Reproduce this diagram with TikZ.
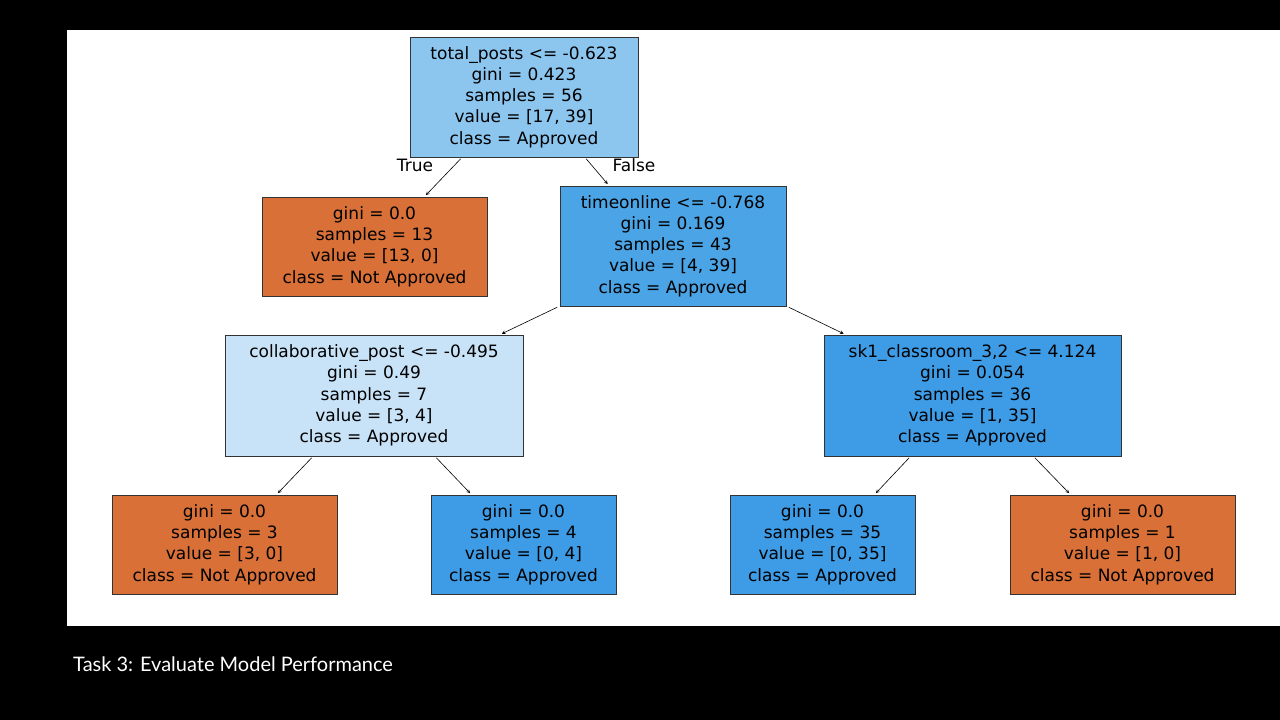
\documentclass[tikz,border=0pt]{standalone}
\usepackage{fontspec}
\setmainfont{DejaVu Sans}
\newfontfamily\capfont{Lato}
\definecolor{orng}{HTML}{D87038}
\definecolor{bluea}{HTML}{8CC6EF}
\definecolor{blueb}{HTML}{4BA4E5}
\definecolor{bluec}{HTML}{C8E3F7}
\definecolor{blued}{HTML}{3D9CE5}
\begin{document}
\begin{tikzpicture}[x=1pt,y=-1pt]
		\tikzset{leaf/.style = {draw=black!80, line width=0.8pt, align=center, inner sep=0pt,
			font=\fontsize{17}{21.3}\selectfont}}
		\tikzset{edge/.style = {->, >=stealth, line width=0.6pt, shorten <=2pt, shorten >=2pt}}
		
		\fill[black] (0,0) rectangle (1280,720);
		\fill[white] (67,30) rectangle (1280,626);
		
		\node[leaf, fill=bluea, minimum width=228, minimum height=120] (root) at (524,97)
			{total\_posts <= -0.623\\gini = 0.423\\samples = 56\\value = [17, 39]\\class = Approved};
		\node[leaf, fill=orng, minimum width=225, minimum height=99] (l1) at (374.5,246.5)
			{gini = 0.0\\samples = 13\\value = [13, 0]\\class = Not Approved};
		\node[leaf, fill=blueb, minimum width=226, minimum height=120] (r1) at (673,246)
			{timeonline <= -0.768\\gini = 0.169\\samples = 43\\value = [4, 39]\\class = Approved};
		\node[leaf, fill=bluec, minimum width=298, minimum height=121] (ll) at (374,395.5)
			{collaborative\_post <= -0.495\\gini = 0.49\\samples = 7\\value = [3, 4]\\class = Approved};
		\node[leaf, fill=blued, minimum width=297, minimum height=121] (rr) at (972.5,395.5)
			{sk1\_classroom\_3,2 <= 4.124\\gini = 0.054\\samples = 36\\value = [1, 35]\\class = Approved};
		\node[leaf, fill=orng, minimum width=225, minimum height=99] (a) at (224.5,544.5)
			{gini = 0.0\\samples = 3\\value = [3, 0]\\class = Not Approved};
		\node[leaf, fill=blued, minimum width=185, minimum height=99] (b) at (523.5,544.5)
			{gini = 0.0\\samples = 4\\value = [0, 4]\\class = Approved};
		\node[leaf, fill=blued, minimum width=185, minimum height=99] (c) at (822.5,544.5)
			{gini = 0.0\\samples = 35\\value = [0, 35]\\class = Approved};
		\node[leaf, fill=orng, minimum width=225, minimum height=99] (d) at (1122.5,544.5)
			{gini = 0.0\\samples = 1\\value = [1, 0]\\class = Not Approved};
		
		\draw[edge] ([xshift=-62]root.south) to ([xshift=50]l1.north);
		\draw[edge] ([xshift=61]root.south) to ([xshift=-64]r1.north);
		\draw[edge] ([xshift=-114]r1.south) to ([xshift=126]ll.north);
		\draw[edge] ([xshift=114]r1.south) to ([xshift=-127]rr.north);
		\draw[edge] ([xshift=-61]ll.south) to ([xshift=52]a.north);
		\draw[edge] ([xshift=61]ll.south) to ([xshift=-52]b.north);
		\draw[edge] ([xshift=-62]rr.south) to ([xshift=52]c.north);
		\draw[edge] ([xshift=61]rr.south) to ([xshift=-52]d.north);
		
		\node[font=\fontsize{17}{20}\selectfont] (t) at (415,165) {True};
		\node[font=\fontsize{17}{20}\selectfont] (f) at (634,165) {False};
		
		\node[anchor=west, text=white, inner sep=0pt, font=\capfont\fontsize{20}{24}\selectfont] (cap) at (73,664)
			{Task 3: Evaluate Model Performance};
		\end{tikzpicture}
\end{document}
